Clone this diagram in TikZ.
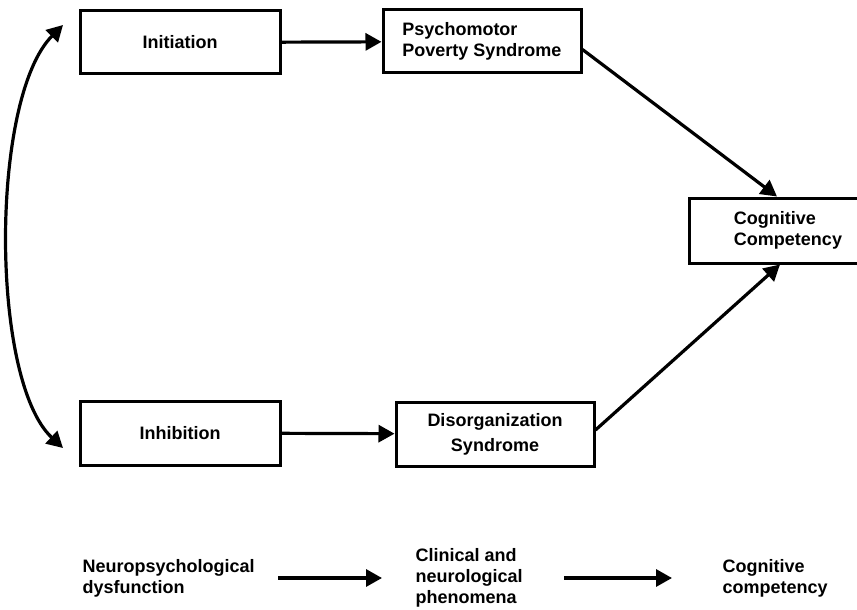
\documentclass[tikz,border=0pt]{standalone}
\usepackage{fontspec}
\setmainfont{Liberation Sans}
\usetikzlibrary{arrows.meta}
\begin{document}
\begin{tikzpicture}[x=1pt,y=1pt,>={Triangle[length=16pt,width=17pt]},
    box/.style={draw,line width=3pt,minimum width=200pt,minimum height=63pt,
      font=\bfseries\fontsize{18}{21}\selectfont,align=center},
    lbl/.style={font=\bfseries\fontsize{18}{21}\selectfont,align=left},
    link/.style={->,line width=3.2pt}]
    \useasboundingbox (0,0) rectangle (857,-610);
    % boxes
    \node[box] (init) at (180,-42.5){Initiation};
    \node[box,minimum width=198pt,align=left] (psy) at (482,-41.5){Psychomotor\\Poverty Syndrome};
    \node[box,minimum width=197pt,minimum height=65pt,align=left] (cog) at (788,-230.5){Cognitive\\Competency};
    \node[box,minimum height=64pt] (inh) at (180,-433){Inhibition};
    \node[box,minimum width=198pt,minimum height=64pt,font=\bfseries\fontsize{18}{25}\selectfont] (dis) at (495,-434){Disorganization\\Syndrome};
    % links
    \draw[link] (init) -- (psy);
    \draw[link] (inh) -- (dis);
    \draw[link] ([yshift=-8pt]psy.east) -- ([xshift=-11pt]cog.north);
    \draw[link] ([yshift=4pt]dis.east) -- ([xshift=-8pt]cog.south);
    \coordinate (top) at (63,-25);
    \coordinate (bot) at (63,-448);
    \draw[<->,line width=3.2pt] (top) .. controls (-10,-98) and (-10,-380) .. (bot);
    % bottom row
    \node[lbl,anchor=west] (neuro) at (79,-578){Neuropsychological\\dysfunction};
    \node[lbl,anchor=west] (clin) at (412,-578){Clinical and\\neurological\\phenomena};
    \node[lbl,anchor=west] (compt) at (719,-578){Cognitive\\competency};
    \draw[link,shorten <=20pt,shorten >=30pt] (neuro.east) -- (clin.west);
    \draw[link,shorten <=38pt,shorten >=47pt] (clin.east) -- (compt.west);
\end{tikzpicture}
\end{document}
